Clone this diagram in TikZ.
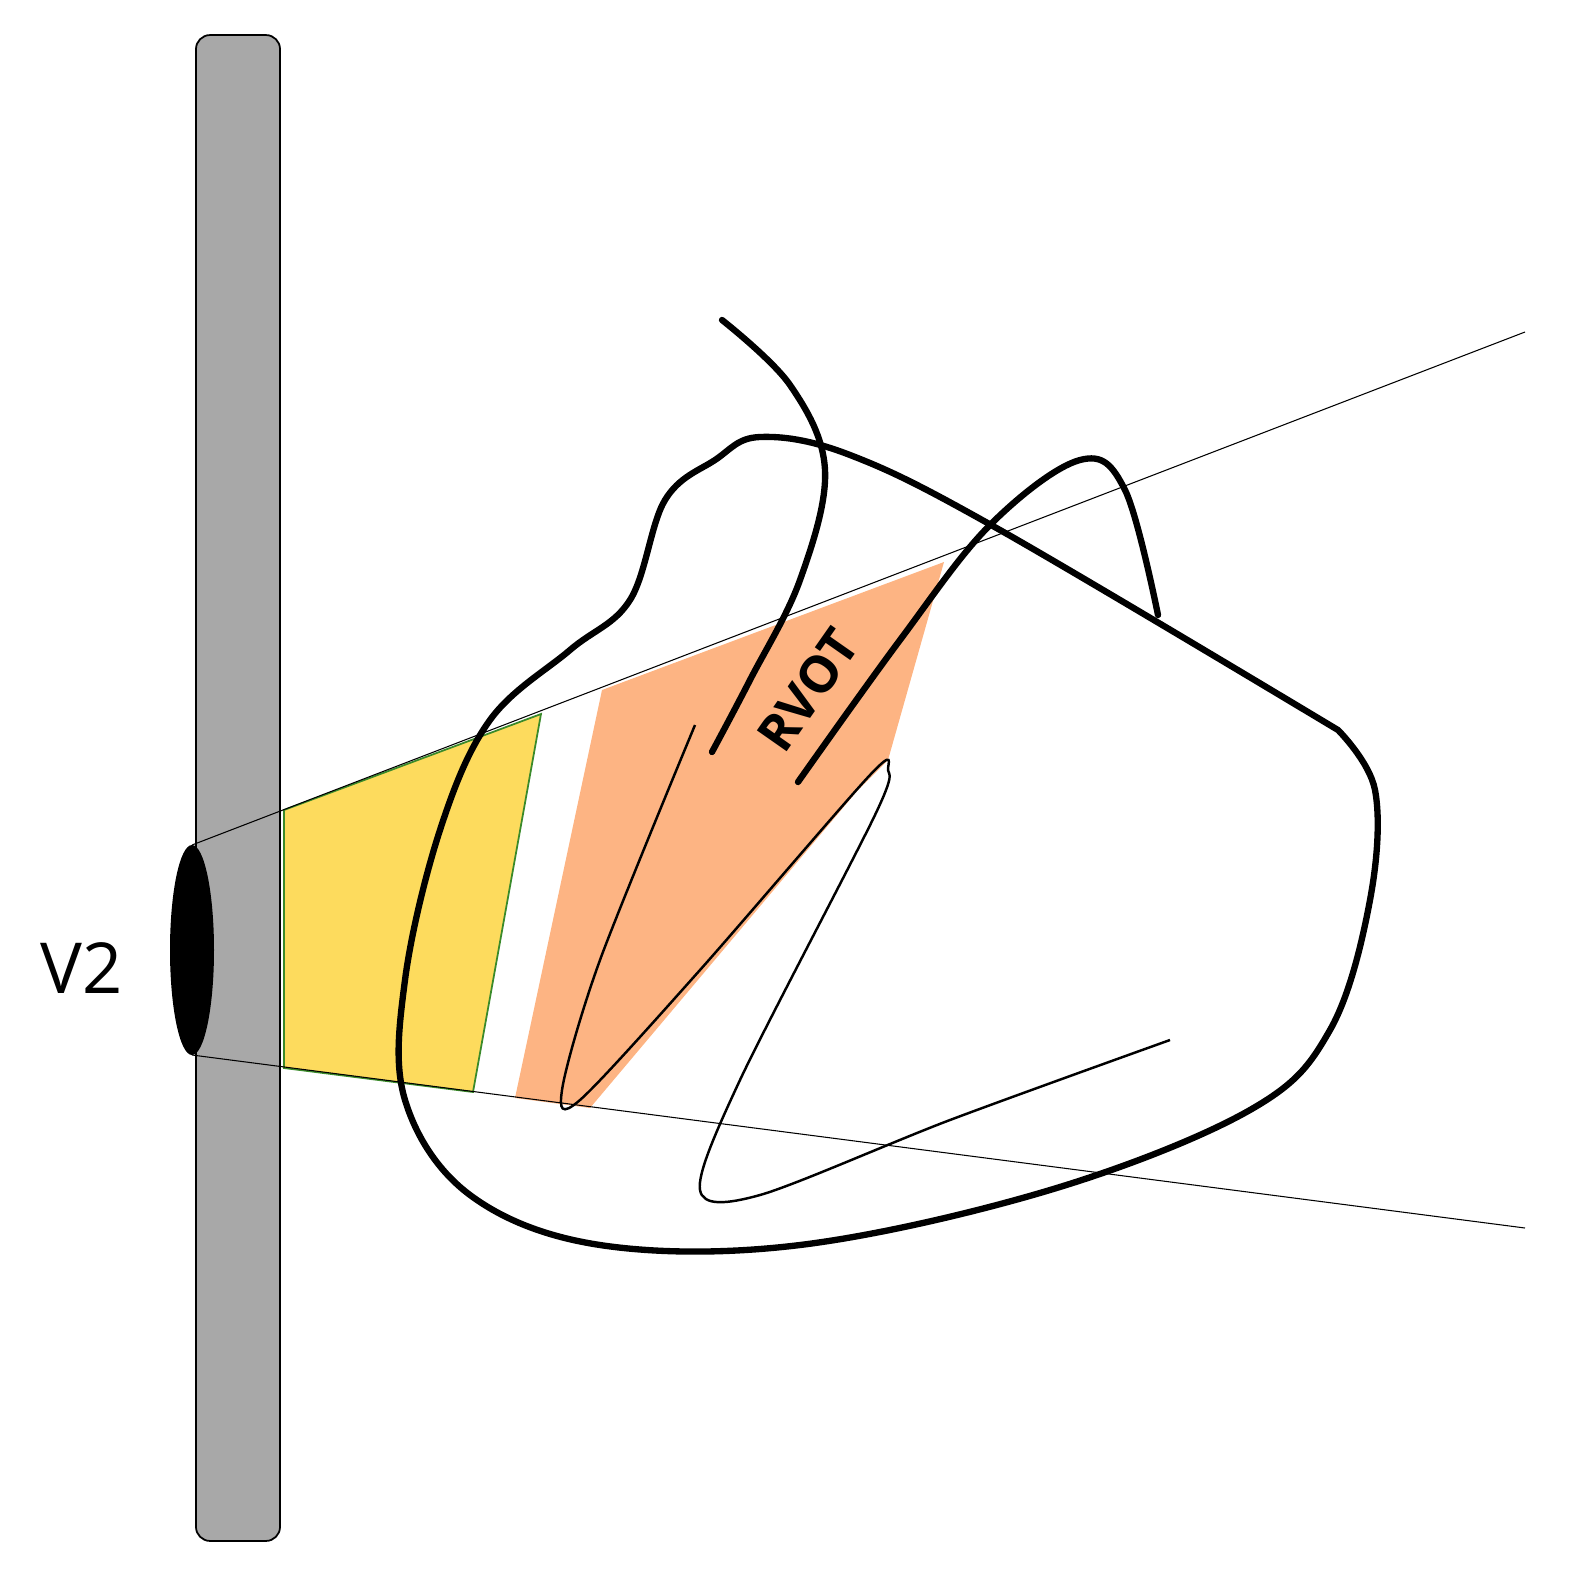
\documentclass[tikz,border=0pt]{standalone}
\usepackage{fontspec}
\setmainfont{Open Sans}
\begin{document}
\begin{tikzpicture}[x=0.01cm,y=-0.01cm,
 thickline/.style={line width=1.8pt,line cap=round,line join=round},
 thinline/.style={line width=0.7pt}]
\useasboundingbox (0,0) rectangle (1581,1594);
\definecolor{barg}{HTML}{A8A8A8}
\definecolor{yel}{HTML}{FDDB5D}
\definecolor{ora}{HTML}{FDB483}
\definecolor{grn}{HTML}{3A8A2A}
\node[draw,fill=barg,rounded corners=4pt,minimum width=0.84cm,minimum height=15.05cm,inner sep=0,line width=0.5pt] (bar) at (238,788) {};
\fill[yel,draw=grn,line width=0.5pt] (284,810) -- (541,714) -- (473,1092) -- (284,1068) -- cycle;
\fill[ora] (602,690) -- (944,562) -- (888,760) -- (858,790) -- (590,1108) -- (515,1098) -- cycle;
\draw[line width=0.3pt] (192,845) -- (1525,332);
\draw[line width=0.3pt] (192,1055) -- (1525,1228);
\fill (192,950) ellipse [x radius=22,y radius=105];
\node (v2) at (82,968) {\fontsize{20}{24}\selectfont V2};
\draw[thickline] plot[smooth,tension=0.6] coordinates {(1338,730) (1375,790) (1370,900) (1330,1030) (1250,1110) (1050,1190) (800,1245) (600,1245) (470,1195) (405,1100) (405,980) (440,830) (490,720) (570,650) (630,600) (665,500) (715,460) (760,437) (850,455) (1000,530) (1338,730)};
\draw[thickline] plot[smooth,tension=0.6] coordinates {(722,320) (790,385) (825,470) (800,580) (750,680) (712,752)};
\draw[thickline] plot[smooth,tension=0.6] coordinates {(798,782) (900,640) (990,525) (1080,460) (1125,490) (1158,615)};
\draw[thinline] plot[smooth,tension=0.5] coordinates {(695,725) (600,960) (562,1090) (580,1100) (700,970) (870,775) (888,770) (875,815) (740,1080) (700,1190) (760,1195) (950,1120) (1170,1040)};
\node[rotate=55,inner sep=0,font=\bfseries\fontsize{14.5}{17}\selectfont] (rvot) at (808,690) {RVOT};
\end{tikzpicture}
\end{document}
